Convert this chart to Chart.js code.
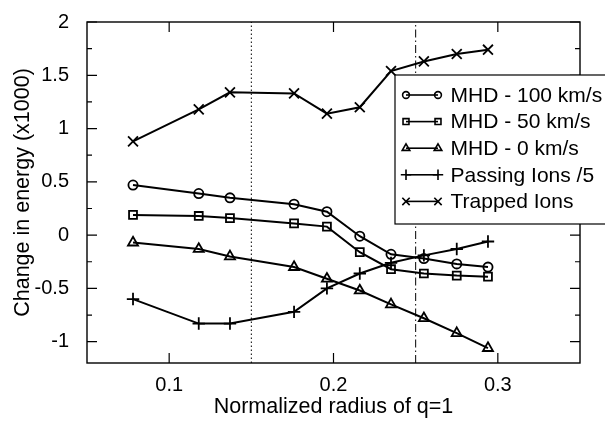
<!DOCTYPE html>
<html>
<head>
<meta charset="utf-8">
<script src="https://cdn.jsdelivr.net/npm/chart.js@4/dist/chart.umd.min.js"></script>
<style>
  html, body { margin: 0; padding: 0; background: #fff; }
  #wrap { width: 605px; height: 421px; position: relative; }
</style>
</head>
<body>
<div id="wrap"><canvas id="c" width="605" height="421"></canvas></div>
<script>
// ---- Data ----
const xValues   = [0.078, 0.118, 0.137, 0.176, 0.196, 0.216, 0.235, 0.255, 0.275, 0.294];
const mhd100    = [0.47, 0.39, 0.35, 0.29, 0.22, -0.01, -0.18, -0.22, -0.27, -0.30];
const mhd50     = [0.19, 0.18, 0.16, 0.11, 0.08, -0.16, -0.32, -0.36, -0.38, -0.39];
const mhd0      = [-0.07, -0.13, -0.20, -0.30, -0.41, -0.52, -0.65, -0.78, -0.92, -1.06];
const passing   = [-0.60, -0.83, -0.83, -0.72, -0.50, -0.36, -0.26, -0.19, -0.13, -0.06];
const trapped   = [0.88, 1.18, 1.34, 1.33, 1.14, 1.20, 1.54, 1.63, 1.70, 1.74];
const seriesLabels = ['MHD - 100 km/s', 'MHD - 50 km/s', 'MHD - 0 km/s', 'Passing Ions /5', 'Trapped Ions'];
const xTicks = [0.1, 0.2, 0.3];
const yTicks = [-1, -0.5, 0, 0.5, 1, 1.5, 2];
const yMinorTicks = [-0.75, -0.25, 0.25, 0.75, 1.25, 1.75];
const refLines = [0.15, 0.25];
const xTitle = 'Normalized radius of q=1';
const yTitle = 'Change in energy (x1000)';

const pts = arr => arr.map((y, i) => ({ x: xValues[i], y }));
const styles = [
  { pointStyle: 'circle',   pointRadius: 4.6 },
  { pointStyle: 'rect',     pointRadius: 5.6 },
  { pointStyle: 'triangle', pointRadius: 5.8 },
  { pointStyle: 'cross',    pointRadius: 6.2 },
  { pointStyle: 'crossRot', pointRadius: 7 }
];
const seriesData = [mhd100, mhd50, mhd0, passing, trapped];

const datasets = seriesData.map((arr, i) => ({
  label: seriesLabels[i],
  data: pts(arr),
  showLine: true,
  borderColor: '#000',
  backgroundColor: 'rgba(0,0,0,0)',
  borderWidth: 2,
  pointBorderWidth: 1.8,
  pointStyle: styles[i].pointStyle,
  pointRadius: styles[i].pointRadius,
  pointHoverRadius: styles[i].pointRadius,
  order: 1
}));
// reference vertical lines
const yMin = -1.2, yMax = 2;
datasets.push({
  label: 'ref1',
  data: [{ x: refLines[0], y: yMin }, { x: refLines[0], y: yMax }],
  showLine: true, borderColor: '#000', borderWidth: 1, borderDash: [1.5, 2.5],
  pointRadius: 0, order: 5
});
datasets.push({
  label: 'ref2',
  data: [{ x: refLines[1], y: yMin }, { x: refLines[1], y: yMax }],
  showLine: true, borderColor: '#000', borderWidth: 1, borderDash: [8, 3, 1.5, 3],
  pointRadius: 0, order: 5
});

function drawMarker(ctx, style, x, y, r) {
  ctx.beginPath();
  if (style === 'circle') {
    ctx.arc(x, y, r, 0, Math.PI * 2);
  } else if (style === 'rect') {
    const s = r * Math.SQRT1_2;
    ctx.rect(x - s, y - s, 2 * s, 2 * s);
  } else if (style === 'triangle') {
    ctx.moveTo(x, y - r);
    ctx.lineTo(x + r * Math.cos(Math.PI / 6), y + r / 2);
    ctx.lineTo(x - r * Math.cos(Math.PI / 6), y + r / 2);
    ctx.closePath();
  } else if (style === 'cross') {
    ctx.moveTo(x - r, y); ctx.lineTo(x + r, y);
    ctx.moveTo(x, y - r); ctx.lineTo(x, y + r);
  } else if (style === 'crossRot') {
    const d = r * Math.SQRT1_2;
    ctx.moveTo(x - d, y - d); ctx.lineTo(x + d, y + d);
    ctx.moveTo(x - d, y + d); ctx.lineTo(x + d, y - d);
  }
  ctx.stroke();
}

const framePlugin = {
  id: 'frame',
  afterDatasetsDraw(chart) {
    const { ctx, chartArea: a, scales } = chart;
    const xs = scales.x, ys = scales.y;
    ctx.save();
    ctx.strokeStyle = '#000';
    ctx.lineWidth = 1.4;
    ctx.strokeRect(a.left, a.top, a.right - a.left, a.bottom - a.top);
    ctx.lineWidth = 1.2;
    ctx.beginPath();
    xTicks.forEach(v => {
      const px = xs.getPixelForValue(v);
      ctx.moveTo(px, a.bottom); ctx.lineTo(px, a.bottom - 10);
      ctx.moveTo(px, a.top); ctx.lineTo(px, a.top + 10);
    });
    yTicks.forEach(v => {
      const py = ys.getPixelForValue(v);
      ctx.moveTo(a.left, py); ctx.lineTo(a.left + 10, py);
      ctx.moveTo(a.right, py); ctx.lineTo(a.right - 10, py);
    });
    yMinorTicks.forEach(v => {
      const py = ys.getPixelForValue(v);
      ctx.moveTo(a.left, py); ctx.lineTo(a.left + 5, py);
      ctx.moveTo(a.right, py); ctx.lineTo(a.right - 5, py);
    });
    ctx.stroke();

    // legend box
    const bx = 395, by = 75, bw = 230, bh = 149;
    ctx.fillStyle = '#fff';
    ctx.fillRect(bx, by, bw, bh);
    ctx.lineWidth = 1.2;
    ctx.strokeRect(bx, by, bw, bh);
    const legR = [3.4, 4.2, 4.4, 5.2, 5.2];
    seriesLabels.forEach((lab, i) => {
      const y = 95 + i * 26.6;
      const x1 = 406, x2 = 438;
      ctx.lineWidth = 1.6;
      ctx.beginPath(); ctx.moveTo(x1, y); ctx.lineTo(x2, y); ctx.stroke();
      ctx.lineWidth = 1.6;
      drawMarker(ctx, styles[i].pointStyle, x1, y, legR[i]);
      drawMarker(ctx, styles[i].pointStyle, x2, y, legR[i]);
      ctx.fillStyle = '#000';
      ctx.font = '21px "Liberation Sans", Arial, sans-serif';
      ctx.textAlign = 'left';
      ctx.textBaseline = 'middle';
      ctx.fillText(lab, 450.5, y + 1);
    });
    ctx.restore();
  }
};

new Chart(document.getElementById('c'), {
  type: 'scatter',
  data: { datasets },
  options: {
    responsive: false,
    animation: false,
    devicePixelRatio: 1,
    layout: { padding: { left: 0, right: 25, top: 15, bottom: 0 } },
    plugins: { legend: { display: false }, tooltip: { enabled: false } },
    scales: {
      x: {
        type: 'linear', min: 0.05, max: 0.35,
        afterBuildTicks: s => { s.ticks = xTicks.map(v => ({ value: v })); },
        afterFit: s => { s.height = 58; },
        grid: { display: false },
        border: { display: false },
        ticks: {
          color: '#000', padding: 2,
          font: { family: '"Liberation Sans", Arial, sans-serif', size: 20 },
          callback: v => String(v)
        },
        title: {
          display: true, text: xTitle, color: '#000',
          font: { family: '"Liberation Sans", Arial, sans-serif', size: 21.5 },
          padding: { top: 0, bottom: 1 }
        }
      },
      y: {
        type: 'linear', min: yMin, max: yMax,
        afterBuildTicks: s => { s.ticks = yTicks.map(v => ({ value: v })); },
        afterFit: s => { s.width = 87; },
        grid: { display: false },
        border: { display: false },
        ticks: {
          color: '#000', padding: 10,
          font: { family: '"Liberation Sans", Arial, sans-serif', size: 20 },
          callback: v => String(v)
        },
        title: {
          display: true, text: yTitle, color: '#000',
          font: { family: '"Liberation Sans", Arial, sans-serif', size: 21.5 },
          padding: { top: 10, bottom: 0 }
        }
      }
    }
  },
  plugins: [framePlugin]
});
</script>
</body>
</html>
